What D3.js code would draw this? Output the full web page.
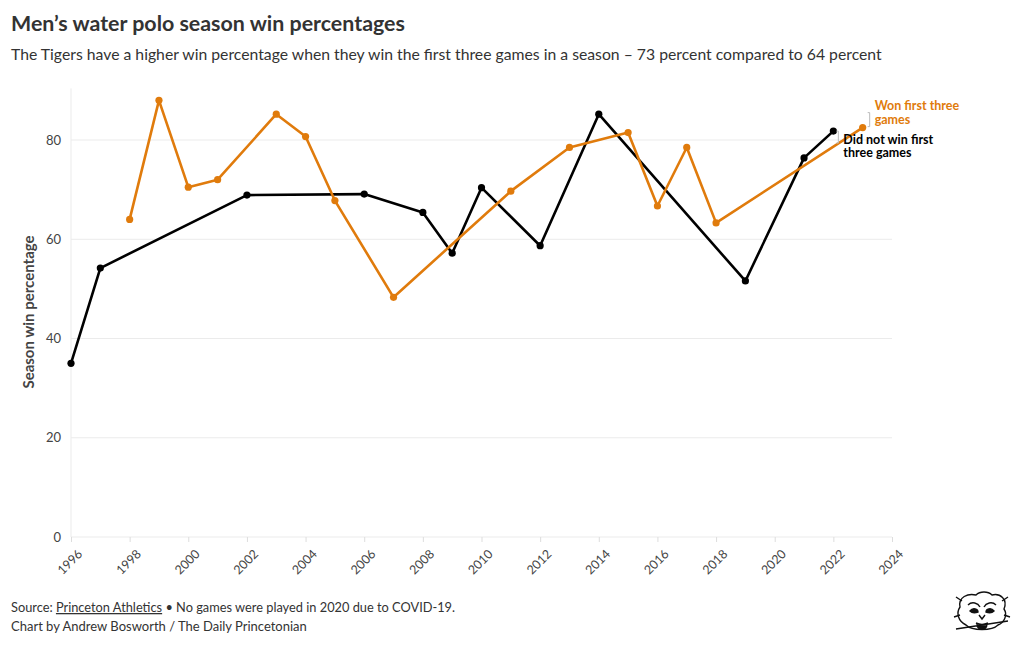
<!DOCTYPE html>
<html><head><meta charset="utf-8">
<script src="https://cdn.jsdelivr.net/npm/d3@7"></script>
<style>
body{margin:0;background:#fff;font-family:"Lato","Noto Sans",sans-serif;}
svg text{font-family:"Lato","Noto Sans",sans-serif;}
</style></head>
<body>
<svg id="c" width="1020" height="650"></svg>
<script>
const didNotYears = [1996,1997,2002,2006,2008,2009,2010,2012,2014,2019,2021,2022];
const didNotValues = [35.0,54.2,68.9,69.1,65.4,57.2,70.4,58.7,85.2,51.6,76.4,81.8];
const wonYears = [1998,1999,2000,2001,2003,2004,2005,2007,2011,2013,2015,2016,2017,2018,2023];
const wonValues = [64.0,88.0,70.5,72.0,85.2,80.7,67.8,48.3,69.7,78.5,81.5,66.7,78.5,63.3,82.5];
const yTicks = [0,20,40,60,80];
const xTicks = [1996,1998,2000,2002,2004,2006,2008,2010,2012,2014,2016,2018,2020,2022,2024];
const wonLabel = ["Won first three","games"];
const didNotLabel = ["Did not win first","three games"];

const svg = d3.select("#c");
const x = d3.scaleLinear().domain([1996,2024]).range([71,892]);
const y = d3.scaleLinear().domain([0,90]).range([537,90.4]);

svg.append("text").attr("x",11).attr("y",31).attr("font-size",21.4).attr("font-weight",700).attr("fill","#333")
  .text("Men’s water polo season win percentages");
svg.append("text").attr("x",11).attr("y",60).attr("font-size",15.75).attr("fill","#333")
  .text("The Tigers have a higher win percentage when they win the first three games in a season – 73 percent compared to 64 percent");

// grid
const g = svg.append("g");
g.selectAll(".grid").data(yTicks).join("line")
  .attr("x1",71).attr("x2",892).attr("y1",d=>y(d)).attr("y2",d=>y(d))
  .attr("stroke","#ebebeb").attr("stroke-width",1);
g.append("line").attr("x1",71).attr("x2",71).attr("y1",y(90)-2).attr("y2",y(0)).attr("stroke","#ebebeb");

// y axis
const yAxis = d3.axisLeft(y).tickValues(yTicks).tickSize(0).tickPadding(10);
const ya = svg.append("g").attr("transform","translate(71,0)").call(yAxis);
ya.select(".domain").remove();
ya.selectAll("text").attr("font-size",13).attr("fill","#444").style("font-family","Lato,'Noto Sans',sans-serif");

// x axis
const xAxis = d3.axisBottom(x).tickValues(xTicks).tickFormat(d3.format("d")).tickSize(5);
const xa = svg.append("g").attr("transform",`translate(0,${y(0)})`).call(xAxis);
xa.select(".domain").remove();
xa.selectAll("line").attr("stroke","#ddd");
xa.selectAll("text").attr("font-size",12.5).attr("fill","#444")
  .style("font-family","Lato,'Noto Sans',sans-serif")
  .attr("text-anchor","end").attr("dy","0.35em")
  .attr("transform","translate(3,9) rotate(-45)");

svg.append("text").attr("transform","translate(34,312) rotate(-90)").attr("text-anchor","middle")
  .attr("font-size",15).attr("font-weight",700).attr("fill","#444").text("Season win percentage");

const line = d3.line().x(d=>x(d[0])).y(d=>y(d[1]));
const black = didNotYears.map((d,i)=>[d,didNotValues[i]]);
const orange = wonYears.map((d,i)=>[d,wonValues[i]]);
const ORANGE = "#e07b0c";

svg.append("path").datum(black).attr("d",line).attr("fill","none").attr("stroke","#000").attr("stroke-width",2.6).attr("stroke-linejoin","round");
svg.selectAll(".bp").data(black).join("circle").attr("cx",d=>x(d[0])).attr("cy",d=>y(d[1])).attr("r",3.6).attr("fill","#000");
svg.append("path").datum(orange).attr("d",line).attr("fill","none").attr("stroke",ORANGE).attr("stroke-width",2.6).attr("stroke-linejoin","round");
svg.selectAll(".op").data(orange).join("circle").attr("cx",d=>x(d[0])).attr("cy",d=>y(d[1])).attr("r",3.6).attr("fill",ORANGE);

// labels
const lastO = orange[orange.length-1], lastB = black[black.length-1];
function bracket(xx, y1, y2){
  svg.append("path").attr("d",`M${xx-2},${y1}H${xx}V${y2}H${xx-2}`).attr("fill","none").attr("stroke","#bbb").attr("stroke-width",1);
}
bracket(x(lastO[0])+7, y(lastO[1])-15, y(lastO[1])-1);
wonLabel.forEach((t,i)=>svg.append("text").attr("x",x(lastO[0])+12).attr("y",y(lastO[1])-17.5+i*13.5)
  .attr("font-size",12.5).attr("font-weight",700).attr("fill",ORANGE).text(t));
bracket(x(lastB[0])+5, y(lastB[1]), y(lastB[1])+12);
didNotLabel.forEach((t,i)=>svg.append("text").attr("x",x(lastB[0])+10).attr("y",y(lastB[1])+12.5+i*13.5)
  .attr("font-size",12.5).attr("font-weight",700).attr("fill","#000").text(t));

// footer
const f1 = svg.append("text").attr("x",11).attr("y",612).attr("font-size",12.8).attr("fill","#333");
f1.append("tspan").text("Source: ");
f1.append("tspan").attr("text-decoration","underline").text("Princeton Athletics");
f1.append("tspan").text(" • No games were played in 2020 due to COVID-19.");
svg.append("text").attr("x",11).attr("y",631).attr("font-size",13).attr("fill","#333").text("Chart by Andrew Bosworth / The Daily Princetonian");

// logo (simple tiger sketch)
const lg = svg.append("g").attr("transform","translate(982,615)").attr("fill","none").attr("stroke","#111").attr("stroke-width",1.4);
lg.append("path").attr("d","M-22,-8 C-24,-18 -14,-22 -6,-20 C-2,-24 6,-24 10,-20 C18,-22 26,-16 22,-6 C26,0 22,8 16,10 C10,16 -10,16 -16,10 C-24,6 -26,-2 -22,-8Z");
lg.append("path").attr("d","M-14,-10 C-10,-14 -4,-12 -2,-8 M14,-10 C10,-14 4,-12 2,-8");
lg.append("path").attr("fill","#111").attr("d","M-12,-4 C-9,-8 -4,-6 -4,-3 C-7,-2 -10,-2 -12,-4Z M12,-4 C9,-8 4,-6 4,-3 C7,-2 10,-2 12,-4Z");
lg.append("path").attr("d","M-3,0 L0,4 L3,0 M-6,8 C-2,10 2,10 6,8");
lg.append("path").attr("d","M-26,14 L26,6 M-5,9 C-5,16 5,16 5,9");
lg.append("path").attr("fill","#111").attr("d","M-4,11 C-3,15 3,15 4,11Z");
lg.append("path").attr("d","M-20,-14 L-26,-18 M20,-14 L26,-18 M-22,0 L-28,2 M22,0 L28,2");
</script>
</body></html>
